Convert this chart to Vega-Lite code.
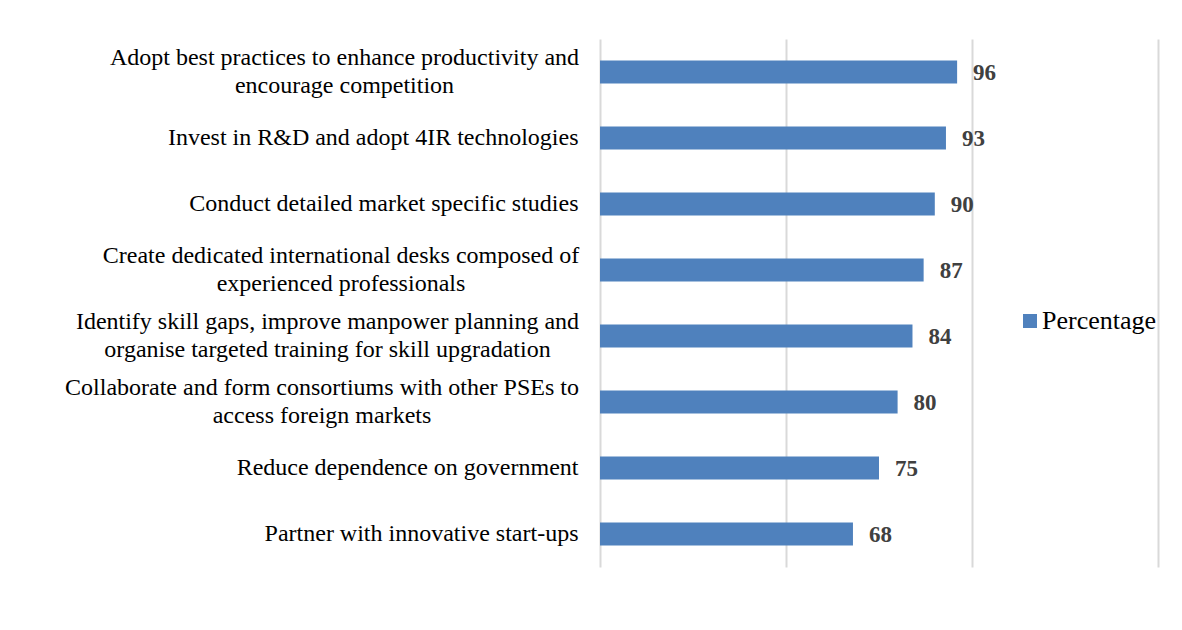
{
  "$schema": "https://vega.github.io/schema/vega-lite/v6.json",
  "width": 558,
  "height": 528,
  "autosize": {"type": "none"},
  "padding": {"left": 600, "top": 39, "right": 24, "bottom": 63},
  "background": "white",
  "config": {"view": {"stroke": null}, "font": "Liberation Serif"},
  "data": {
    "values": [
      {"strategy": "Adopt best practices to enhance productivity and|encourage competition", "percentage": 96},
      {"strategy": "Invest in R&D and adopt 4IR technologies", "percentage": 93},
      {"strategy": "Conduct detailed market specific studies", "percentage": 90},
      {"strategy": "Create dedicated international desks composed of|experienced professionals", "percentage": 87},
      {"strategy": "Identify skill gaps, improve manpower planning and|organise targeted training for skill upgradation", "percentage": 84},
      {"strategy": "Collaborate and form consortiums with other PSEs to|access foreign markets", "percentage": 80},
      {"strategy": "Reduce dependence on government", "percentage": 75},
      {"strategy": "Partner with innovative start-ups", "percentage": 68}
    ]
  },
  "encoding": {
    "y": {
      "field": "strategy",
      "type": "nominal",
      "sort": null,
      "scale": {"paddingInner": 0.65, "paddingOuter": 0.325},
      "axis": {
        "title": null,
        "domain": false,
        "ticks": false,
        "labelExpr": "split(datum.label, '|')",
        "labelFontSize": 24,
        "labelLineHeight": 28,
        "labelColor": "#000000",
        "labelLimit": 700,
        "labelAlign": {"condition": {"test": "indexof(datum.value, '|') >= 0", "value": "center"}, "value": "right"},
        "labelOffset": {"condition": {"test": "indexof(datum.value, '|') >= 0", "value": -14}, "value": 0},
        "labelPadding": {
          "condition": [
            {"test": "indexof(datum.value, 'Adopt') == 0", "value": 256},
            {"test": "indexof(datum.value, 'Create') == 0", "value": 259.5},
            {"test": "indexof(datum.value, 'Identify') == 0", "value": 273},
            {"test": "indexof(datum.value, 'Collaborate') == 0", "value": 278.5}
          ],
          "value": 22
        }
      }
    },
    "x": {
      "field": "percentage",
      "type": "quantitative",
      "scale": {"domain": [0, 150]},
      "axis": {
        "title": null,
        "values": [0, 50, 100, 150],
        "labels": false,
        "ticks": false,
        "domain": false,
        "grid": true,
        "gridColor": "#d9d9d9",
        "gridWidth": 2
      }
    }
  },
  "layer": [
    {
      "mark": {"type": "bar"},
      "encoding": {
        "color": {
          "datum": "Percentage",
          "type": "nominal",
          "scale": {"range": ["#4F81BD"]},
          "legend": {
            "title": null,
            "orient": "none",
            "legendX": 417,
            "legendY": 269,
            "padding": 0,
            "symbolType": "square",
            "symbolSize": 196,
            "symbolStrokeWidth": 0,
            "labelFontSize": 26,
            "labelOffset": -1,
            "labelColor": "#000000",
            "labelLimit": 300
          }
        }
      }
    },
    {
      "mark": {"type": "text", "align": "left", "baseline": "middle", "dx": 16, "dy": 1, "fontWeight": "bold", "fontSize": 23, "color": "#404040"},
      "encoding": {"text": {"field": "percentage", "type": "quantitative"}}
    }
  ]
}
